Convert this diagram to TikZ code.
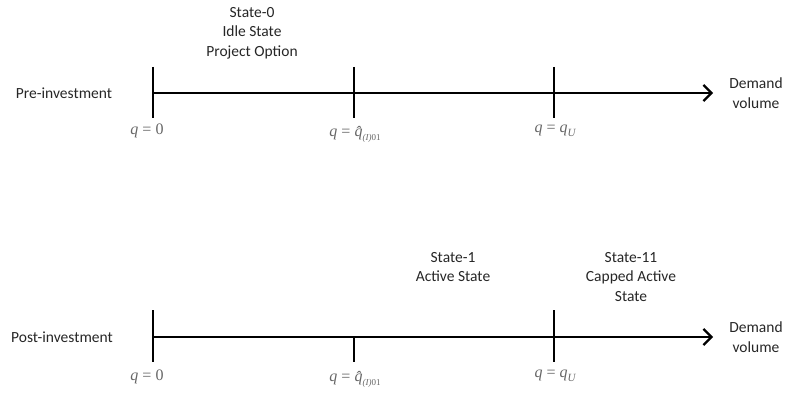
\documentclass[tikz,border=0pt]{standalone}
\usepackage{fontspec}
\setmainfont{Carlito}
\newfontfamily\tnrfam{Liberation Serif}
\usetikzlibrary{arrows.meta}
\newcommand{\eqsp}{\hspace{4pt}}
\newcommand{\qhatlbl}{\itshape q\eqsp\upshape=\eqsp\itshape q^^^^0302\raisebox{-3.5pt}{\fontsize{9}{9}\selectfont(I)\upshape 01}}
\newcommand{\qulbl}{\itshape q\eqsp\upshape=\eqsp\itshape q\raisebox{-3.5pt}{\fontsize{11}{11}\selectfont U}}
\newcommand{\qzlbl}{\itshape q\eqsp\upshape=\eqsp0}
\begin{document}
\begin{tikzpicture}[x=1pt,y=-1pt,
  axis/.style={line width=2.2pt,-{Straight Barb[length=8pt,width=16pt,line width=2.2pt]}},
  tickln/.style={line width=2.2pt},
  lbl/.style={font=\fontsize{15.5}{19.5}\selectfont,text=black!85,align=center,inner sep=0pt},
  mlbl/.style={font=\tnrfam\fontsize{16}{18}\selectfont,text=black!60,inner sep=0pt}]
\useasboundingbox (0,0) rectangle (789,393);
% top axis
\coordinate (a0) at (153,93);
\coordinate (a1) at (713,93);
\coordinate (t0a) at (153,67); \coordinate (t0b) at (153,118);
\coordinate (t1a) at (354,67); \coordinate (t1b) at (354,118);
\coordinate (t2a) at (554,67); \coordinate (t2b) at (554,118);
\draw[axis] (a0) -- (a1);
\draw[tickln] (t0a) -- (t0b);
\draw[tickln] (t1a) -- (t1b);
\draw[tickln] (t2a) -- (t2b);
\node[lbl] (pre) at (64,93) {Pre-investment};
\node[lbl] (dv1) at (756,93) {Demand\\volume};
\node[lbl] (s0) at (252,33) {State-0\\Idle State\\Project Option};
\node[mlbl] (q0a) at (147,131) {\qzlbl};
\node[mlbl] (q1a) at (355,134) {\qhatlbl};
\node[mlbl] (q2a) at (555,131) {\qulbl};
% bottom axis
\coordinate (b0) at (153,337);
\coordinate (b1) at (713,337);
\coordinate (u0a) at (153,310); \coordinate (u0b) at (153,362);
\coordinate (u1a) at (354,337); \coordinate (u1b) at (354,362);
\coordinate (u2a) at (554,310); \coordinate (u2b) at (554,362);
\draw[axis] (b0) -- (b1);
\draw[tickln] (u0a) -- (u0b);
\draw[tickln] (u1a) -- (u1b);
\draw[tickln] (u2a) -- (u2b);
\node[lbl] (post) at (62,337) {Post-investment};
\node[lbl] (dv2) at (756,337) {Demand\\volume};
\node[lbl] (s1) at (453,267) {State-1\\Active State};
\node[lbl] (s11) at (631,277) {State-11\\Capped Active\\State};
\node[mlbl] (q0b) at (147,377) {\qzlbl};
\node[mlbl] (q1b) at (355,379) {\qhatlbl};
\node[mlbl] (q2b) at (555,376) {\qulbl};
\end{tikzpicture}
\end{document}
